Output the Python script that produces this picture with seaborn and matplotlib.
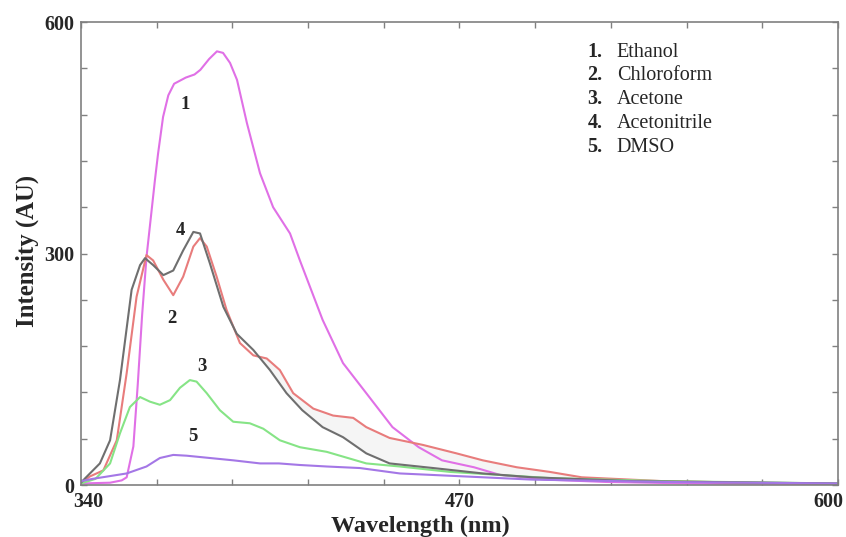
import numpy as np
import pandas as pd
import matplotlib
matplotlib.use("Agg")
import matplotlib.pyplot as plt
from matplotlib.transforms import ScaledTranslation
import seaborn as sns

# Emission spectra (wavelength nm, intensity AU)
ethanol_wl = [340, 350, 354, 355.7, 358, 359.5, 361, 362.5, 365.4, 366.5, 368.2, 370, 372, 376, 379, 381,
              384, 386.7, 388.8, 391.2, 393.6, 397, 401.5, 406, 411.8, 415.2, 423, 430, 438, 447, 456,
              464, 475, 484, 500, 520, 550, 600]
ethanol_i = [2, 3, 6, 10, 50, 130, 220, 295, 395, 430, 477, 505, 520, 528, 532, 538,
             552, 562, 560, 547, 525, 469, 404, 360, 326, 291, 214, 158, 119, 75, 49,
             32, 23, 13, 7, 4, 2, 1]

chloro_wl = [340, 343, 347.7, 352.3, 355.7, 359.1, 362.5, 364.8, 368.3, 371.7, 375.1, 378.6, 380.9, 383.2,
             386.6, 390, 394.6, 399.2, 403.8, 408.3, 412.9, 419.8, 426.6, 433.5, 438, 446, 457.4, 469,
             478, 489.7, 501, 512, 540, 600]
chloro_i = [2, 11, 19, 58, 145, 244, 298, 291, 266, 246, 270, 309, 320, 309,
            270, 227, 184, 168, 164, 149, 119, 99, 90, 87, 75, 61, 52, 41,
            32, 23, 17, 10, 5, 1]

acetone_wl = [340, 345, 350, 353.4, 356.8, 360.3, 363.7, 367.1, 370.6, 374, 377.4, 379.7, 383.2, 387.7,
              392.3, 398, 402.6, 408.3, 415.2, 424.4, 438, 449.5, 466.7, 484, 501, 540, 600]
acetone_i = [2, 8, 28, 67, 101, 114, 108, 104, 110, 126, 136, 134, 119, 97,
             82, 80, 73, 58, 49, 43, 28, 24, 17, 13, 9, 5, 2]

acn_wl = [340, 341.5, 346.5, 350, 353.4, 357.4, 360.3, 362, 364.8, 368.3, 371.7, 375.1, 378.6, 380.9,
          384.3, 388.9, 393.5, 399.2, 404.9, 410.6, 416, 423, 430, 438, 446, 461, 478, 495, 530, 600]
acn_i = [3, 9, 28, 58, 136, 253, 285, 294, 285, 272, 278, 304, 328, 326,
         287, 231, 196, 175, 149, 119, 97, 75, 62, 41, 28, 22, 15, 10, 5, 2]

dmso_wl = [340, 344, 355.7, 362.5, 367.1, 371.7, 376.3, 384.3, 392.3, 401.5, 408, 415, 424.4, 435.8,
           449.5, 472.5, 495, 540, 600]
dmso_i = [5, 8, 15, 24, 35, 39, 38, 35, 32, 28, 28, 26, 24, 22,
          15, 11, 7, 4, 2]

solvents = ["Ethanol", "Chloroform", "Acetone", "Acetonitrile", "DMSO"]
x_labels = ["340", "470", "600"]
y_labels = ["0", "300", "600"]

series = {
    "Ethanol": (ethanol_wl, ethanol_i),
    "Chloroform": (chloro_wl, chloro_i),
    "Acetone": (acetone_wl, acetone_i),
    "Acetonitrile": (acn_wl, acn_i),
    "DMSO": (dmso_wl, dmso_i),
}
frames = [pd.DataFrame({"wavelength": wl, "intensity": inten, "solvent": name})
          for name, (wl, inten) in series.items()]
df = pd.concat(frames, ignore_index=True)

palette = {
    "Ethanol": "#e070e6",
    "Chloroform": "#e87c7c",
    "Acetone": "#86e486",
    "Acetonitrile": "#6f6f6f",
    "DMSO": "#a477e6",
}

sns.set_style("white")
plt.rcParams["font.family"] = ["Liberation Serif", "DejaVu Serif"]

fig = plt.figure(figsize=(8.46, 5.37), dpi=100)
ax = fig.add_axes([0.0957, 0.0968, 0.8948, 0.8622])

# faint stippled band between chloroform and acetonitrile tails
band_x = np.array(chloro_wl)
band_mask = (band_x >= 396) & (band_x <= 512)
ax.fill_between(band_x[band_mask], np.array(chloro_i)[band_mask],
                np.interp(band_x[band_mask], acn_wl, acn_i),
                color="#d8d8d8", alpha=0.25, linewidth=0)

sns.lineplot(data=df, x="wavelength", y="intensity", hue="solvent", hue_order=solvents,
             palette=palette, estimator=None, sort=False, linewidth=1.5, legend=False, ax=ax)

ax.set_xlim(340, 600)
ax.set_ylim(0, 600)

xt = np.arange(340, 601, 26)
ax.set_xticks(xt)
ax.set_xticklabels([str(v) if str(v) in x_labels else "" for v in xt],
                   fontsize=14.5, fontweight="bold")
yt = np.arange(0, 601, 60)
ax.set_yticks(yt)
ax.set_yticklabels([str(v) if str(v) in y_labels else "" for v in yt],
                   fontsize=14.5, fontweight="bold")

ax.tick_params(direction="in", length=4, width=1, color="#808080",
               top=True, right=True, bottom=True, left=True)
ax.tick_params(axis="x", pad=5)
ax.tick_params(axis="y", pad=5)
for s in ax.spines.values():
    s.set_color("#808080")
    s.set_linewidth(1.2)

# nudge the end labels inward like the original
xlabs = ax.get_xticklabels()
xlabs[0].set_transform(xlabs[0].get_transform() + ScaledTranslation(7 / 100, 0, fig.dpi_scale_trans))
xlabs[-1].set_transform(xlabs[-1].get_transform() + ScaledTranslation(-10 / 100, 0, fig.dpi_scale_trans))

ax.set_xlabel("Wavelength (nm)", fontsize=17.5, fontweight="bold")
ax.xaxis.set_label_coords(0.448, -0.066)
ax.set_ylabel("Intensity (AU)", fontsize=17.8, fontweight="bold")
ax.yaxis.set_label_coords(-0.056, 0.505)

# curve number annotations
curve_tags = [("1", 375.7, 493), ("4", 374, 330), ("2", 371.3, 216), ("3", 381.6, 154), ("5", 378.5, 63)]
for tag, tx, ty in curve_tags:
    ax.text(tx, ty, tag, fontsize=13.5, fontweight="bold", ha="center", va="center")

# numbered key in the upper right
key_y = [0.9250, 0.8747, 0.8240, 0.7721, 0.7203]
for i, (name, ky) in enumerate(zip(solvents, key_y)):
    ax.text(0.669, ky, f"{i + 1}.", transform=ax.transAxes, fontsize=14.5,
            fontweight="bold", ha="left", va="baseline")
    ax.text(0.708, ky, name, transform=ax.transAxes, fontsize=14.5, ha="left", va="baseline")

fig.savefig("out.png", dpi=100)
